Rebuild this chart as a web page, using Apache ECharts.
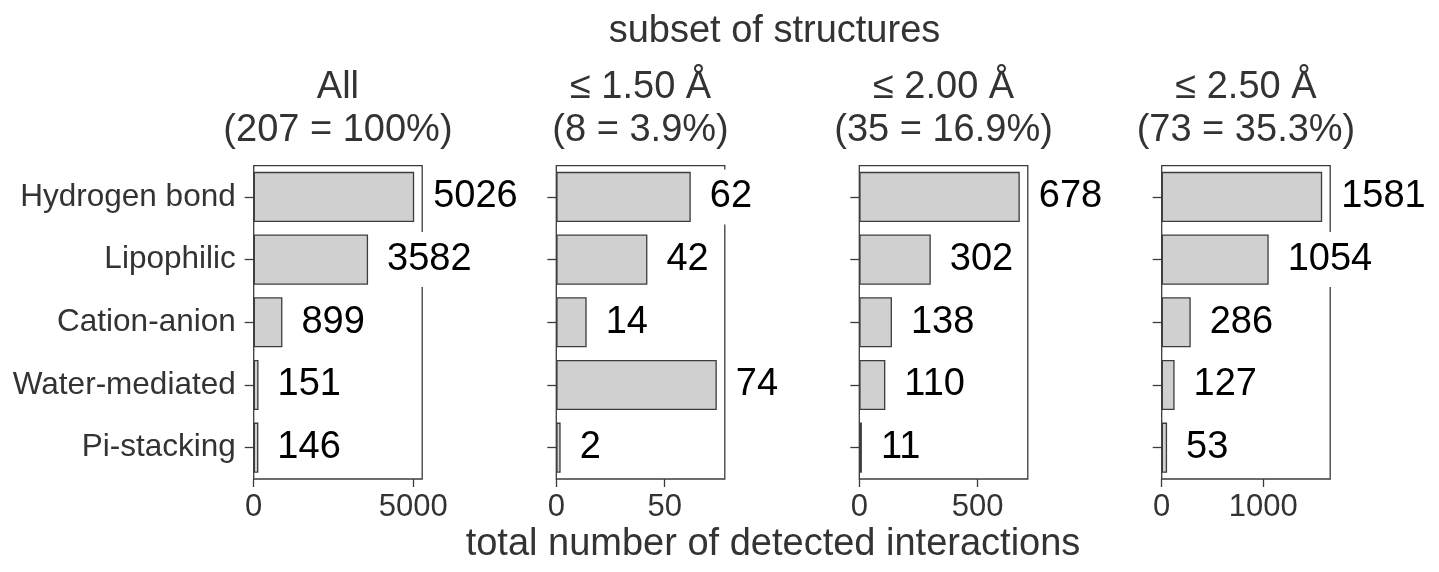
<!DOCTYPE html>
<html>
<head>
<meta charset="utf-8">
<script src="https://cdn.jsdelivr.net/npm/echarts@6/dist/echarts.min.js"></script>
<style>
  html, body { margin: 0; padding: 0; background: #fff; }
  #chart { width: 1439px; height: 572px; }
</style>
</head>
<body>
<div id="chart"></div>
<script>
// Interaction categories (top to bottom)
const categories = ['Hydrogen bond', 'Lipophilic', 'Cation-anion', 'Water-mediated', 'Pi-stacking'];

// Panel headings
const panelTitles = ['All', '≤ 1.50 Å', '≤ 2.00 Å', '≤ 2.50 Å'];
const panelCounts = ['(207 = 100%)', '(8 = 3.9%)', '(35 = 16.9%)', '(73 = 35.3%)'];

// Interaction counts per resolution subset
const countsAll = [5026, 3582, 899, 151, 146];
const counts150 = [62, 42, 14, 74, 2];
const counts200 = [678, 302, 138, 110, 11];
const counts250 = [1581, 1054, 286, 127, 53];

// x-axis tick values per panel
const ticksAll = [0, 5000];
const ticks150 = [0, 50];
const ticks200 = [0, 500];
const ticks250 = [0, 1000];

const seriesData = [countsAll, counts150, counts200, counts250];
const tickData = [ticksAll, ticks150, ticks200, ticks250];

const FONT = '"Liberation Sans", Arial, Helvetica, sans-serif';
const INK = '#333333';
const EDGE = '#3c3c3c';

const gridLefts = [253.7, 556.3, 859.3, 1161.7];
const gridWidth = 168.5;
const gridTop = 165.6;
const gridHeight = 313.4;

const chart = echarts.init(document.getElementById('chart'), null, { renderer: 'canvas' });

const grids = [], xAxes = [], yAxes = [], series = [], graphics = [];

seriesData.forEach((vals, i) => {
  grids.push({
    left: gridLefts[i], top: gridTop, width: gridWidth, height: gridHeight,
    show: true, borderColor: EDGE, borderWidth: 1.3, backgroundColor: 'transparent'
  });
  xAxes.push({
    gridIndex: i, type: 'value', min: 0, max: Math.max(...vals) * 1.05,
    axisLine: { show: false },
    splitLine: { show: false },
    axisTick: { show: true, inside: false, length: 8, customValues: tickData[i],
      lineStyle: { color: EDGE, width: 1.3 } },
    axisLabel: { show: true, customValues: tickData[i], margin: 13,
      formatter: (v) => String(v),
      fontSize: 31, fontFamily: FONT, color: INK }
  });
  yAxes.push({
    gridIndex: i, type: 'category', data: categories, inverse: true,
    axisLine: { show: false },
    splitLine: { show: false },
    axisTick: { show: true, inside: false, length: 9, alignWithLabel: true,
      lineStyle: { color: EDGE, width: 1.3 } },
    axisLabel: { show: i === 0, margin: 18, fontSize: 31.5, fontFamily: FONT, color: INK }
  });
  series.push({
    type: 'bar', xAxisIndex: i, yAxisIndex: i, data: vals,
    barWidth: '80%',
    itemStyle: { color: '#d0d0d0', borderColor: EDGE, borderWidth: 1.3 },
    label: {
      show: true, position: 'right', distance: 16,
      fontSize: 38, fontFamily: FONT, color: '#000',
      backgroundColor: '#fff', padding: [11, 3, 6, 3]
    },
    emphasis: { disabled: true },
    animation: false
  });
  const cx = gridLefts[i] + gridWidth / 2;
  graphics.push({
    type: 'text', x: cx, y: 88,
    style: { text: panelTitles[i], font: '38px ' + FONT, fill: INK, align: 'center', verticalAlign: 'middle' }
  });
  graphics.push({
    type: 'text', x: cx, y: 131,
    style: { text: panelCounts[i], font: '38px ' + FONT, fill: INK, align: 'center', verticalAlign: 'middle' }
  });
});

graphics.push({
  type: 'text', x: 774.5, y: 32,
  style: { text: 'subset of structures', font: '38px ' + FONT, fill: INK, align: 'center', verticalAlign: 'middle' }
});
graphics.push({
  type: 'text', x: 773, y: 545,
  style: { text: 'total number of detected interactions', font: '38px ' + FONT, fill: INK, align: 'center', verticalAlign: 'middle' }
});

chart.setOption({
  animation: false,
  backgroundColor: '#fff',
  grid: grids,
  xAxis: xAxes,
  yAxis: yAxes,
  series: series,
  graphic: graphics
});
</script>
</body>
</html>
